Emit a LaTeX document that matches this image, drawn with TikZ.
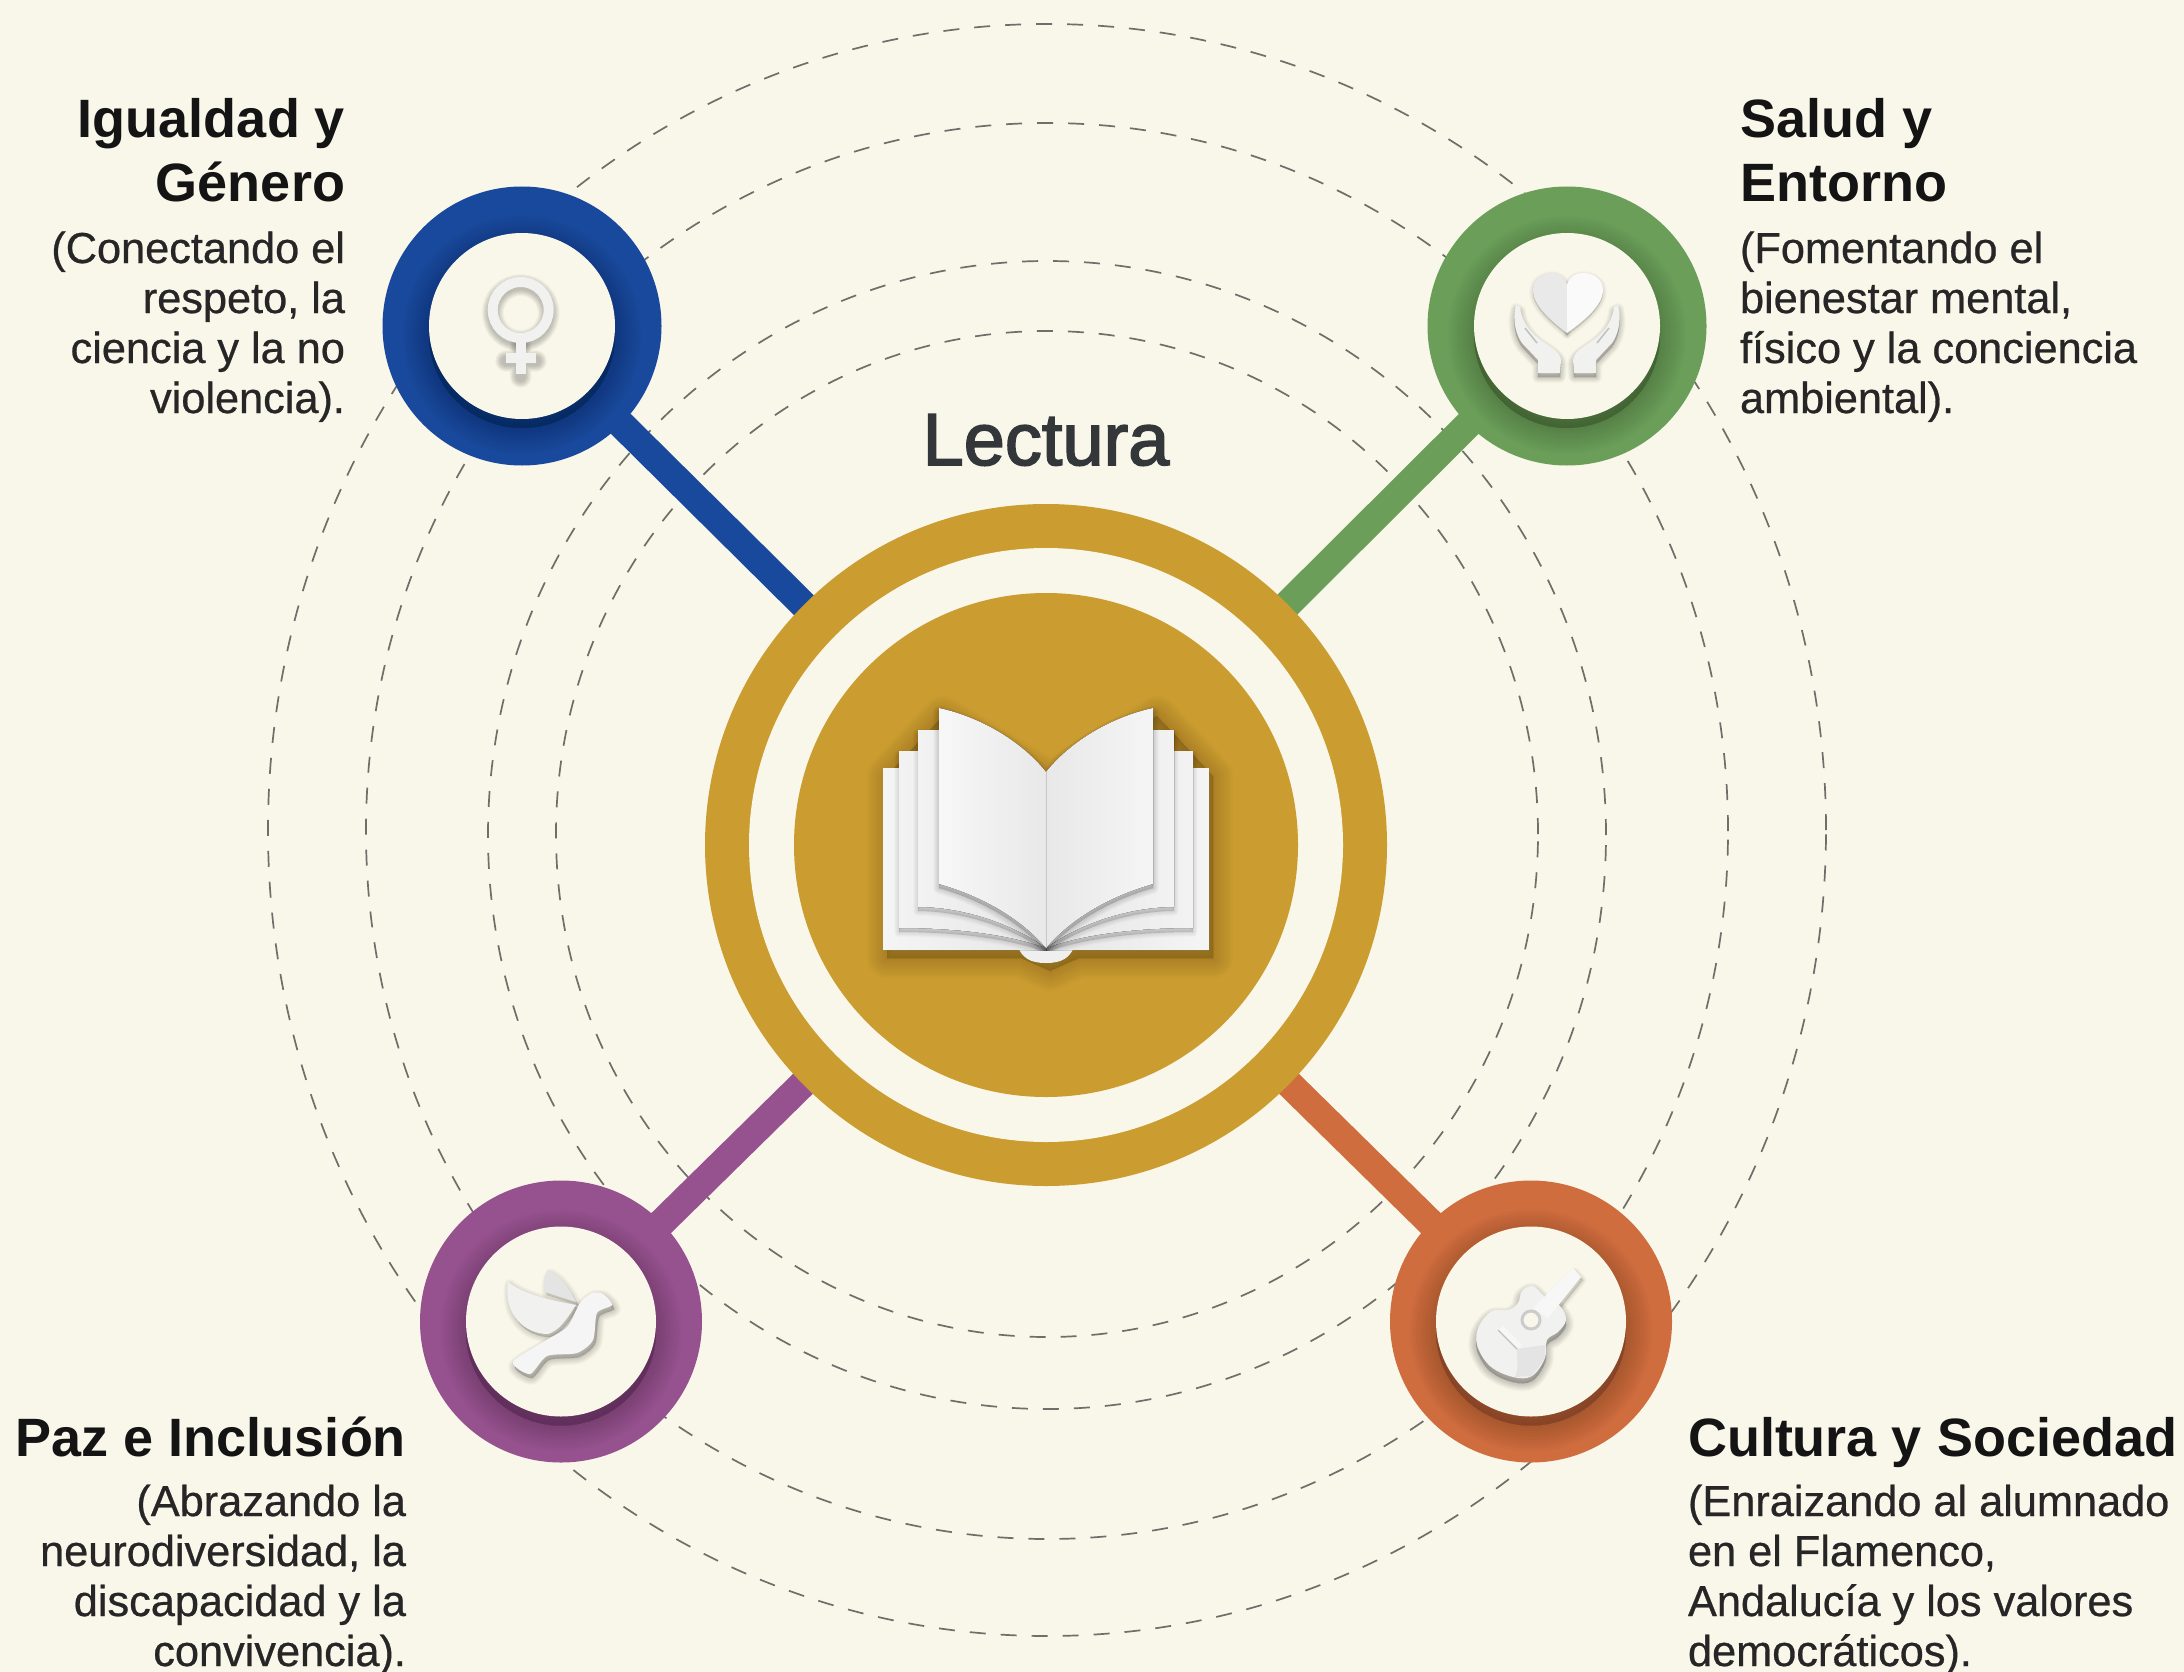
\documentclass[tikz,border=0pt]{standalone}
\usepackage{fontspec}
\setmainfont{Liberation Sans}
\newfontfamily\lectfont[FakeBold=2.2]{Liberation Sans}
\newfontfamily\descfont[FakeBold=0.6]{Liberation Sans}
\definecolor{paper}{HTML}{F9F6EA}
\definecolor{gold}{HTML}{CB9C2F}
\definecolor{bluec}{HTML}{19499C}
\definecolor{greenc}{HTML}{6B9F59}
\definecolor{purplec}{HTML}{96528F}
\definecolor{orangec}{HTML}{CF6D3F}
\definecolor{dashc}{HTML}{6E6E6A}
\definecolor{icon}{HTML}{F1F1F0}
\definecolor{iconb}{HTML}{E4E4E4}
\definecolor{lectc}{HTML}{33373A}
\pgfdeclarelayer{bg}
\pgfsetlayers{bg,main}
\tikzset{
  orbit/.style={draw=dashc,line width=1.7pt,dash pattern=on 16pt off 15pt},
  link/.style={line width=28pt,shorten <=-4pt,shorten >=-4pt},
  disc/.style={circle,inner sep=0pt,outer sep=0pt},
  titletext/.style={inner sep=0pt,outer sep=0pt,text=black!92,font=\bfseries\fontsize{54}{64}\selectfont},
  desctext/.style={inner sep=0pt,outer sep=0pt,text=black!85,font=\descfont\fontsize{43.3}{50}\selectfont},
}
% soft shadow of a filled path: path, dx, dy, spread, opacity per step
\newcommand\softfill[5]{\foreach \ww in {0,...,9}{%
  \path[shift={(#2,#3)},draw=black,fill=black,opacity=#5,line join=round,line width=\ww*#4/9*2pt] #1;}}
% soft shadow of a stroked path: path, dx, dy, spread, base width
\newcommand\softline[5]{\foreach \ww in {0,...,9}{%
  \path[shift={(#2,#3)},draw=black,opacity=.022,line cap=round,line width=#5pt+\ww*#4/9*2pt] #1;}}
% satellite: name, x, y, outer radius, inner radius, colour
\newcommand\satellite[6]{%
  \node[disc,fill=#6,minimum size=2*#4 pt] (#1) at (#2,#3) {};
  \begin{scope}
    \clip (#2,#3) circle[radius=#4pt];
    \softfill{(#2,#3) circle[radius=#5pt]}{0}{9}{26}{.019}
  \end{scope}
  \node[disc,fill=paper,minimum size=2*#5 pt] (#1in) at (#2,#3) {};
}
\def\pback{(883,768) -- (960,768) -- (1046,800) -- (1046,950) -- (883,950) -- cycle}
\def\pmid{(899,751) -- (960,751) -- (1046,800) -- (1046,948) .. controls (1010,935) and (960,928) .. (899,928) -- cycle}
\def\pupper{(918,730) -- (960,730) -- (1046,800) -- (1046,948) .. controls (1015,925) and (965,907) .. (918,907) -- cycle}
\def\pfront{(939,708) .. controls (985,718) and (1025,745) .. (1046,772) -- (1046,948) .. controls (1022,920) and (985,897) .. (939,884) -- cycle}
\def\pspine{(1017,945) .. controls (1022,958) and (1030,963) .. (1046,963) .. controls (1062,963) and (1070,958) .. (1075,945) -- cycle}
\def\pfull{(883,768) -- (918,730) -- (939,708) -- (1046,772) -- (1153,708) -- (1174,730) -- (1209,768) -- (1209,950) -- (1075,950) -- (1046,963) -- (1017,950) -- (883,950) -- cycle}
\def\pvenusring{(520.7,310) circle[radius=28pt]}
\def\pvenuscross{(520.7,340) -- (520.7,374) (506,358) -- (536,358)}
\def\phand{(1516,305) .. controls (1512,320) and (1516,335) .. (1522,343) -- (1538,360) -- (1538,373) -- (1560,373) -- (1561,360) .. controls (1560,352) and (1552,348) .. (1545,343) .. controls (1533,335) and (1522,325) .. (1520,307) -- cycle}
\def\pheartL{(1567,333) .. controls (1550,320) and (1533,305) .. (1533,290) .. controls (1533,278) and (1544,273) .. (1552,273) .. controls (1560,273) and (1566,278) .. (1567,285) -- cycle}
\def\pheartR{(1567,333) .. controls (1585,320) and (1603,305) .. (1603,290) .. controls (1603,278) and (1592,273) .. (1583,273) .. controls (1575,273) and (1568,278) .. (1567,285) -- cycle}
\def\pwingB{(545,1292) .. controls (543,1282) and (545,1275) .. (548,1270) .. controls (556,1272) and (568,1285) .. (576,1302) -- cycle}
\def\pwingF{(508,1282) .. controls (525,1295) and (550,1300) .. (576,1305) .. controls (566,1320) and (560,1330) .. (548,1334) .. controls (525,1334) and (503,1315) .. (508,1282) -- cycle}
\def\pdove{plot[smooth cycle,tension=.45] coordinates {(513,1362) (530,1374) (547,1356) (577,1353) (593,1340) (597,1313) (612,1305) (603,1294) (592,1293) (580,1303) (567,1327) (543,1342)}}
\def\pguitar{plot[smooth cycle,tension=.6] coordinates {(1518,1303) (1522,1291) (1533,1286) (1545,1297) (1560,1306) (1566,1320) (1558,1332) (1547,1340) (1545,1358) (1532,1376) (1513,1377) (1490,1366) (1477,1345) (1479,1326) (1492,1311) (1508,1310)}}
\def\pneck{(1533,1308) -- (1573,1268) -- (1581,1277) -- (1548,1318) -- cycle}
\begin{document}
\begin{tikzpicture}[x=1pt,y=-1pt]
\useasboundingbox (0,0) rectangle (2184,1672);

% ---- main hub
\node[disc,fill=gold,minimum size=682pt] (hub) at (1046,845) {};
\node[disc,fill=paper,minimum size=594pt] (hubgap) at (1046,845) {};
\node[disc,fill=gold,minimum size=504pt] (hubcore) at (1046,845) {};

% ---- satellites
\satellite{gender}{522}{326}{139.5}{93}{bluec}
\satellite{health}{1567}{326}{139.5}{93}{greenc}
\satellite{peace}{561}{1321.5}{141}{95}{purplec}
\satellite{culture}{1531}{1321.5}{141}{95}{orangec}

% ---- orbits and connectors behind
\begin{pgfonlayer}{bg}
  \fill[paper] (0,0) rectangle (2184,1672);
  \draw[orbit] (1047,830) ellipse[x radius=779pt,y radius=806pt];
  \draw[orbit] (1047,831) ellipse[x radius=681pt,y radius=708pt];
  \draw[orbit] (1047,835) ellipse[x radius=559pt,y radius=574pt];
  \draw[orbit] (1047,834) ellipse[x radius=491pt,y radius=503pt];
  \draw[link,bluec] (gender) -- (hub);
  \draw[link,greenc] (health) -- (hub);
  \draw[link,purplec] (peace) -- (hub);
  \draw[link,orangec] (culture) -- (hub);
\end{pgfonlayer}

% ---- book
\softfill{\pfull}{4}{8}{20}{.016}
\fill[iconb!60!white] \pspine;
\fill[left color=white!96!black,right color=black!10!white] \pback;
\fill[left color=black!10!white,right color=white!96!black] (1046,800) -- (1132,768) -- (1209,768) -- (1209,950) -- (1046,950) -- cycle;
\begin{scope}
  \clip (883,700) rectangle (1046,950);
  \softfill{\pmid}{0}{4}{5}{.012}
  \fill[left color=white!95!black,right color=black!10!white] \pmid;
  \softfill{\pupper}{0}{4}{5}{.012}
  \fill[left color=white!95!black,right color=black!10!white] \pupper;
  \softfill{\pfront}{0}{4}{6}{.014}
\end{scope}
\begin{scope}[xshift=2092pt,xscale=-1]
  \clip (883,700) rectangle (1046,950);
  \softfill{\pmid}{0}{4}{5}{.012}
  \fill[left color=black!10!white,right color=white!95!black] \pmid;
  \softfill{\pupper}{0}{4}{5}{.012}
  \fill[left color=black!10!white,right color=white!95!black] \pupper;
  \softfill{\pfront}{0}{4}{6}{.014}
\end{scope}
\fill[left color=white!97!black,right color=black!9!white] \pfront;
\begin{scope}[xshift=2092pt,xscale=-1]
  \fill[left color=black!9!white,right color=white!96!black] \pfront;
\end{scope}
\draw[black!22,line width=1pt] (1046,772) -- (1046,948);

% ---- Venus icon
\softline{\pvenusring}{0}{3}{6}{10}
\softline{\pvenuscross}{0}{3}{6}{10}
\draw[icon,line width=10pt] \pvenusring;
\draw[icon,line width=10pt] \pvenuscross;

% ---- hands and heart
\softfill{\phand}{0}{4}{6}{.02}
\fill[icon] \phand;
\draw[iconb!85!black,line width=1.6pt] (1525,328) -- (1537,343);
\begin{scope}[xshift=3134pt,xscale=-1]
  \softfill{\phand}{0}{4}{6}{.02}
  \fill[icon] \phand;
  \draw[iconb!85!black,line width=1.6pt] (1525,328) -- (1537,343);
\end{scope}
\softfill{\pheartL}{0}{2}{4}{.012}
\softfill{\pheartR}{0}{2}{4}{.012}
\fill[iconb!80!white] \pheartL;
\fill[white!98!black] \pheartR;

% ---- dove
\softfill{\pwingB}{2}{3}{5}{.012}
\fill[iconb] \pwingB;
\softfill{\pwingF}{2}{3}{6}{.016}
\softfill{\pdove}{2}{4}{7}{.02}
\fill[icon] \pwingF;
\fill[white!96!black] \pdove;

% ---- guitar
\softfill{\pguitar}{0}{5}{8}{.022}
\softfill{\pneck}{2}{3}{4}{.012}
\fill[icon] \pguitar;
\fill[iconb] (1515,1377) .. controls (1520,1365) and (1516,1358) .. (1517,1349) -- (1545,1345) -- (1545,1358) -- (1532,1376) -- cycle;
\fill[white!97!black] (1498,1330) -- (1503,1326) -- (1522,1345) -- (1517,1349) -- cycle;
\draw[black!25,line width=1.4pt] (1498,1330) -- (1517,1349);
\draw[black!20,fill=paper,line width=3pt] (1531,1320) circle[radius=9pt];
\fill[white!97!black] \pneck;

% ---- texts
\node[anchor=base,inner sep=0pt,text=lectc,font=\lectfont\fontsize{74}{74}\selectfont] (lectura) at (1046,465) {Lectura};

\node[titletext,align=right,anchor=north east] (t1) at (345,78) {\rule{0pt}{60pt}Igualdad y\\Género};
\node[desctext,align=right,anchor=north east] (d1) at (345,217) {\rule{0pt}{46pt}(Conectando el\\respeto, la\\ciencia y la no\\violencia).};

\node[titletext,align=left,anchor=north west] (t2) at (1740,78) {\rule{0pt}{60pt}Salud y\\Entorno};
\node[desctext,align=left,anchor=north west] (d2) at (1740,217) {\rule{0pt}{46pt}(Fomentando el\\bienestar mental,\\físico y la conciencia\\ambiental).};

\node[titletext,align=right,anchor=north east] (t3) at (406,1396.5) {\rule{0pt}{60pt}Paz e Inclusión};
\node[desctext,align=right,anchor=north east] (d3) at (406,1470) {\rule{0pt}{46pt}(Abrazando la\\neurodiversidad, la\\discapacidad y la\\convivencia).};

\node[titletext,align=left,anchor=north west] (t4) at (1688,1396.5) {\rule{0pt}{60pt}Cultura y Sociedad};
\node[desctext,align=left,anchor=north west] (d4) at (1688,1470) {\rule{0pt}{46pt}(Enraizando al alumnado\\en el Flamenco,\\Andalucía y los valores\\democráticos).};
\end{tikzpicture}
\end{document}
